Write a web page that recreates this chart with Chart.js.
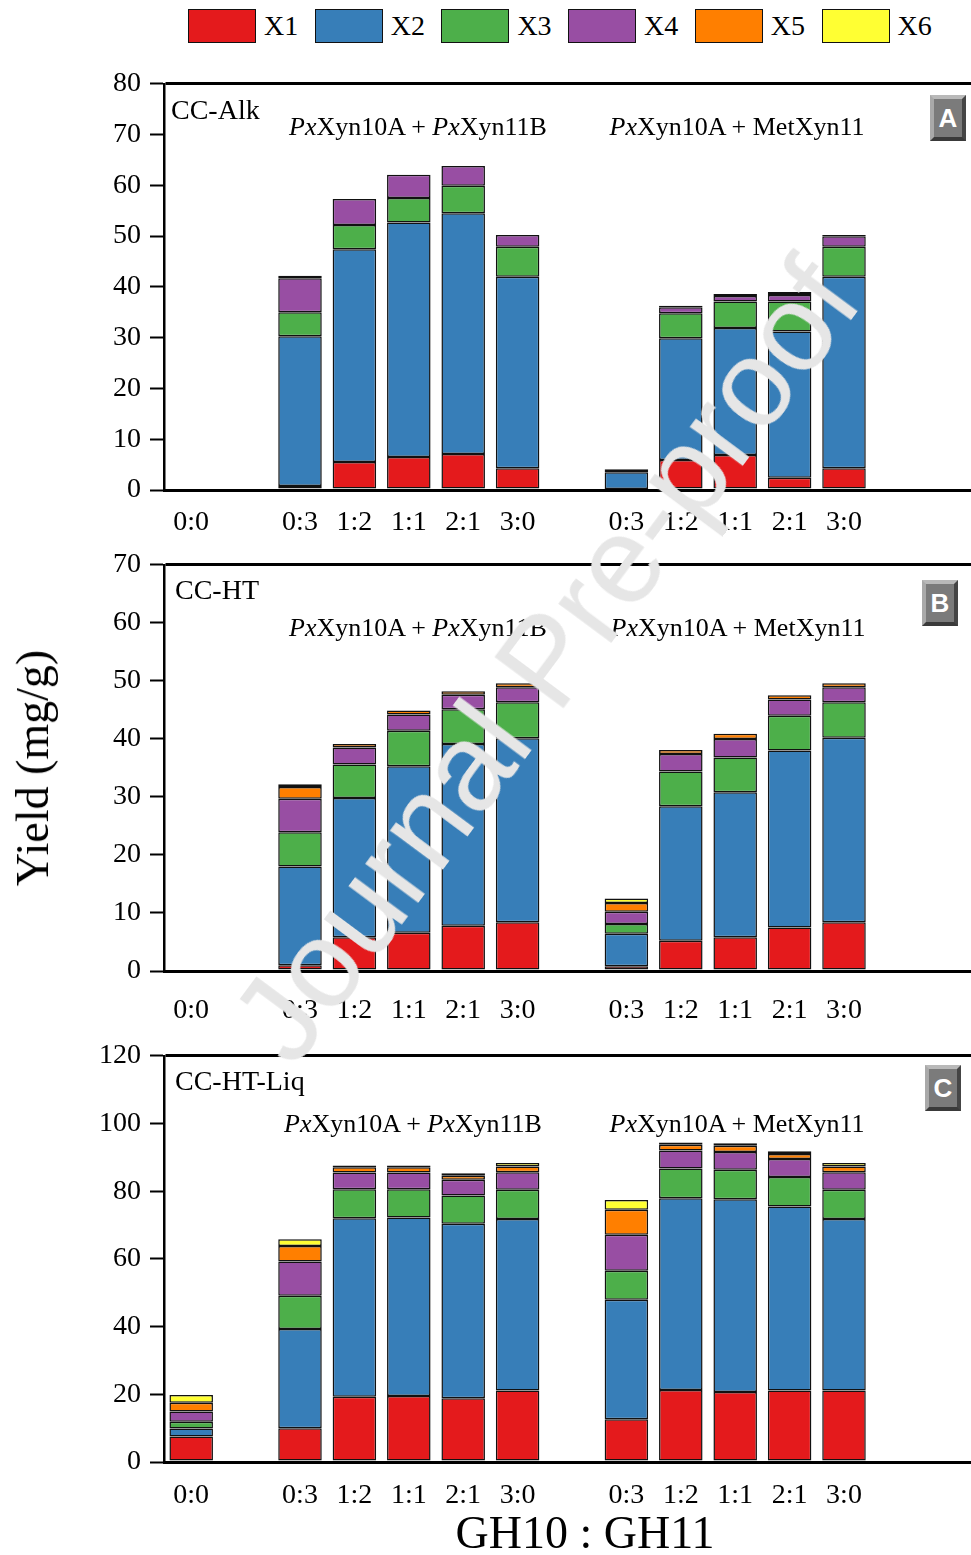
<!DOCTYPE html>
<html>
<head>
<meta charset="utf-8">
<script src="https://cdn.jsdelivr.net/npm/chart.js@4.4.0/dist/chart.umd.min.js"></script>
<style>
  html, body { margin: 0; padding: 0; background: #fff; overflow: hidden; }
  body { width: 971px; height: 1555px; position: relative; font-family: "Liberation Serif", "Times New Roman", serif; color: #000; }
  canvas { position: absolute; left: 0; }
  .txt { position: absolute; line-height: 1; white-space: nowrap; }
  .c { transform: translateX(-50%); }
  .legend-box { position: absolute; width: 66px; height: 32px; border: 1.5px solid #111; top: 9px; }
  .badge { position: absolute; width: 28px; height: 38px; background: #7b7b7b; border: 4px solid;
           border-color: #b9b9b9 #454545 #3a3a3a #a9a9a9; color: #fff; font: bold 26px "Liberation Sans", Arial, sans-serif;
           text-align: center; line-height: 38px; }
  .wm { position: absolute; left: 545px; top: 660px; font: 124px "Liberation Sans", Arial, sans-serif; color: #e6e6e6;
        white-space: nowrap; line-height: 1; transform: translate(-50%, -50%) rotate(-53.4deg); pointer-events: none; }
</style>
</head>
<body>
<div id="legend"></div>

<canvas id="panelA" width="980" height="482" style="top:58px"></canvas>
<canvas id="panelB" width="980" height="482" style="top:539px"></canvas>
<canvas id="panelC" width="980" height="482" style="top:1030px"></canvas>

<div class="txt" style="left:171px; top:96px; font-size:28px">CC-Alk</div>
<div class="txt c" style="left:418px; top:114px; font-size:26px"><i>Px</i>Xyn10A + <i>Px</i>Xyn11B</div>
<div class="txt c" style="left:737px; top:114px; font-size:26px"><i>Px</i>Xyn10A + MetXyn11</div>
<div class="badge" style="left:930px; top:95px">A</div>

<div class="txt" style="left:175px; top:576px; font-size:28px">CC-HT</div>
<div class="txt c" style="left:418px; top:615px; font-size:26px"><i>Px</i>Xyn10A + <i>Px</i>Xyn11B</div>
<div class="txt c" style="left:738px; top:615px; font-size:26px"><i>Px</i>Xyn10A + MetXyn11</div>
<div class="badge" style="left:922px; top:580px">B</div>

<div class="txt" style="left:175px; top:1067px; font-size:28px">CC-HT-Liq</div>
<div class="txt c" style="left:413px; top:1111px; font-size:26px"><i>Px</i>Xyn10A + <i>Px</i>Xyn11B</div>
<div class="txt c" style="left:737px; top:1111px; font-size:26px"><i>Px</i>Xyn10A + MetXyn11</div>
<div class="badge" style="left:925px; top:1065px">C</div>

<div class="txt c" style="left:585px; top:1510px; font-size:46px">GH10 : GH11</div>
<div class="txt" style="left:33px; top:768px; font-size:46px; transform: translate(-50%, -50%) rotate(-90deg)">Yield (mg/g)</div>

<div class="wm">Journal Pre-proof</div>

<script>
const categories = ["0:0", "", "0:3", "1:2", "1:1", "2:1", "3:0", "", "0:3", "1:2", "1:1", "2:1", "3:0", "", ""];
const seriesNames = ["X1", "X2", "X3", "X4", "X5", "X6"];
const seriesColors = ["#e41a1c", "#377eb8", "#4daf4a", "#984ea3", "#ff7f00", "#ffff33"];

// CC-Alk
const alkX1 = [0, null, 0.8, 5.5, 6.5, 7.1, 4.3, null, 0.2, 5.9, 6.9, 2.4, 4.3];
const alkX2 = [0, null, 29.5, 41.9, 46.2, 47.4, 37.7, null, 3.3, 24.0, 25.0, 28.8, 37.7];
const alkX3 = [0, null, 4.7, 4.8, 4.8, 5.4, 5.9, null, 0.6, 4.9, 5.2, 5.9, 5.9];
const alkX4 = [0, null, 6.7, 5.1, 4.6, 3.9, 2.3, null, 0, 1.2, 1.1, 1.3, 2.1];
const alkX5 = [0, null, 0.5, 0, 0, 0, 0, null, 0, 0.3, 0.4, 0.6, 0.2];
const alkX6 = [0, null, 0, 0, 0, 0, 0, null, 0, 0, 0, 0, 0];

// CC-HT
const htX1 = [0, null, 1.0, 5.8, 6.6, 7.8, 8.4, null, 0.8, 5.2, 5.8, 7.5, 8.4];
const htX2 = [0, null, 17.0, 24.0, 28.7, 31.3, 31.7, null, 5.6, 23.2, 25.0, 30.5, 31.8];
const htX3 = [0, null, 5.9, 5.8, 6.1, 6.0, 6.2, null, 1.7, 6.0, 6.0, 6.0, 6.1];
const htX4 = [0, null, 5.8, 2.9, 2.8, 2.5, 2.6, null, 2.1, 3.0, 3.2, 2.8, 2.6];
const htX5 = [0, null, 2.0, 0.6, 0.7, 0.6, 0.7, null, 1.5, 0.7, 0.9, 0.7, 0.7];
const htX6 = [0, null, 0.5, 0, 0, 0, 0, null, 0.8, 0, 0, 0, 0];

// CC-HT-Liq
const liqX1 = [7.5, null, 10.0, 19.3, 19.5, 18.8, 21.1, null, 12.6, 21.3, 20.7, 21.1, 21.1];
const liqX2 = [2.4, null, 29.3, 52.7, 52.7, 51.6, 50.7, null, 35.3, 56.6, 56.9, 54.4, 50.7];
const liqX3 = [2.0, null, 9.8, 8.6, 8.4, 8.3, 8.6, null, 8.6, 8.8, 8.7, 8.7, 8.6];
const liqX4 = [3.0, null, 10.1, 4.9, 4.9, 4.7, 5.2, null, 10.6, 5.3, 5.3, 5.3, 5.2];
const liqX5 = [2.6, null, 4.6, 1.6, 1.6, 1.2, 1.7, null, 7.4, 1.7, 1.8, 1.5, 1.7];
const liqX6 = [2.3, null, 2.0, 0.5, 0.5, 0.7, 1.0, null, 2.9, 0.7, 0.8, 0.8, 1.0];

// legend
const legend = document.getElementById("legend");
seriesNames.forEach((name, i) => {
  const left = 188 + i * 126.7;
  legend.innerHTML += `
    <div class="legend-box" style="left:${left}px; background:${seriesColors[i]}"></div>
    <div class="txt" style="left:${left + 76}px; top:12px; font-size:28px">${name}</div>`;
});

// short minor ticks, the library only gives one tick length
const minorTicks = {
  id: "minorTicks",
  afterDraw(chart, args, opts) {
    const y = chart.scales.y;
    const ctx = chart.ctx;
    ctx.save();
    ctx.strokeStyle = "#000";
    ctx.lineWidth = 2;
    y.ticks.forEach(t => {
      if (t.value % opts.major !== 0) {
        const py = y.getPixelForValue(t.value);
        ctx.beginPath();
        ctx.moveTo(y.right - 7, py);
        ctx.lineTo(y.right, py);
        ctx.stroke();
      }
    });
    ctx.restore();
  }
};

const font = { family: "Liberation Serif", size: 28 };

function makePanel(id, series, yMax, minor, major, labelPad) {
  new Chart(document.getElementById(id), {
    type: "bar",
    data: {
      labels: categories,
      datasets: series.map((d, i) => ({
        label: seriesNames[i],
        data: d,
        backgroundColor: seriesColors[i],
        borderColor: "#111",
        borderWidth: 1.5,
        borderSkipped: false,
        barPercentage: 0.8,
        categoryPercentage: 1
      }))
    },
    options: {
      responsive: false,
      animation: false,
      layout: { padding: 0 },
      plugins: { legend: { display: false }, tooltip: { enabled: false }, minorTicks: { major } },
      scales: {
        x: {
          stacked: true,
          grid: { display: false, drawTicks: false },
          border: { color: "#000", width: 3 },
          ticks: { color: "#000", font, padding: labelPad, autoSkip: false, maxRotation: 0 },
          afterFit(s) { s.height = 50; }
        },
        y: {
          stacked: true,
          min: 0,
          max: yMax,
          ticks: { stepSize: minor, color: "#000", font, padding: 9, callback: v => (v % major === 0 ? v : "") },
          grid: {
            color: c => (c.tick && c.tick.value === yMax ? "#000" : "transparent"),
            lineWidth: 3,
            tickColor: c => (c.tick && c.tick.value % major === 0 ? "#000" : "transparent"),
            tickLength: 14,
            tickWidth: 2
          },
          border: { color: "#000", width: 2.5 },
          afterFit(s) { s.width = 164; }
        }
      }
    },
    plugins: [minorTicks]
  });
}

makePanel("panelA", [alkX1, alkX2, alkX3, alkX4, alkX5, alkX6], 80, 5, 10, 16);
makePanel("panelB", [htX1, htX2, htX3, htX4, htX5, htX6], 70, 5, 10, 23);
makePanel("panelC", [liqX1, liqX2, liqX3, liqX4, liqX5, liqX6], 120, 10, 20, 17);
</script>
</body>
</html>
